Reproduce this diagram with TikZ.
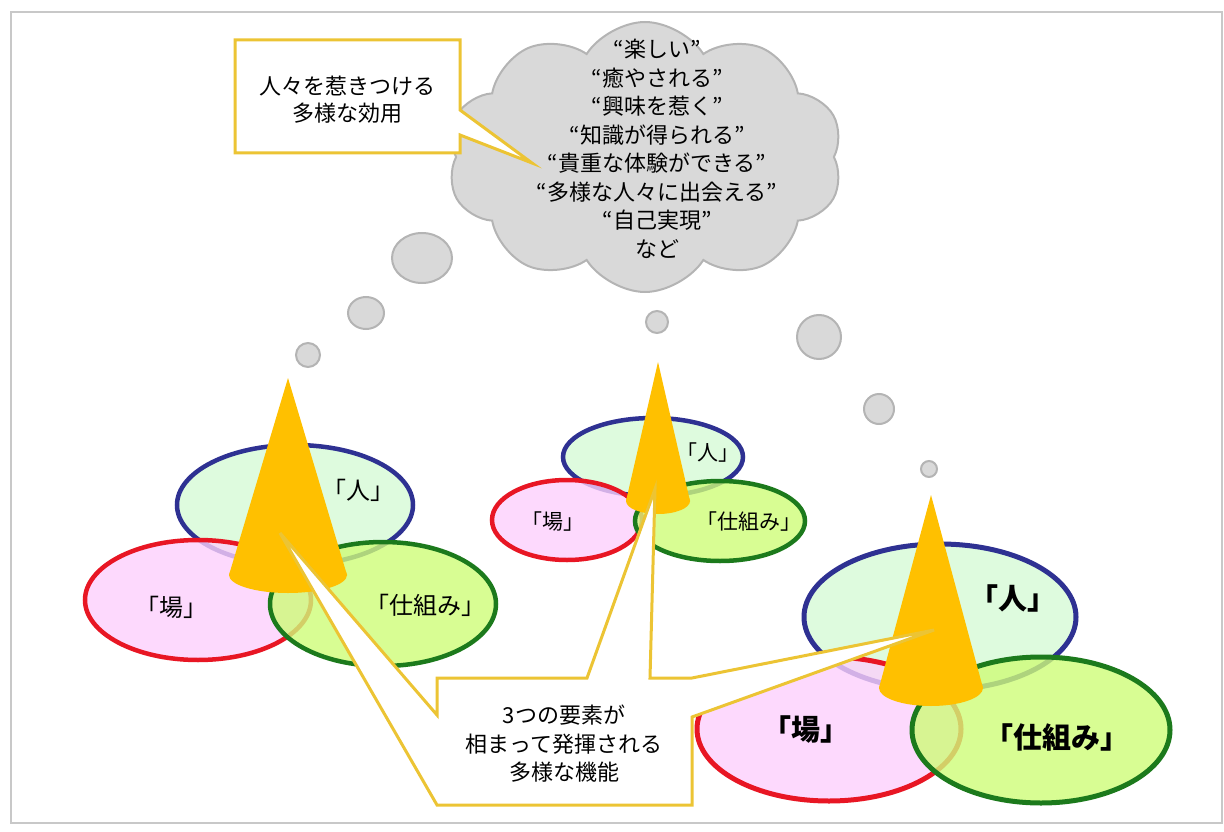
\documentclass[tikz,border=0pt]{standalone}
\usepackage{fontspec}
\setmainfont{Noto Sans CJK JP}
\usepackage{tikz}
\usetikzlibrary{shapes.geometric,shapes.symbols}

\definecolor{framegray}{RGB}{200,200,200}
\definecolor{cloudfill}{RGB}{217,217,217}
\definecolor{cloudline}{RGB}{180,180,180}
\definecolor{calloutline}{RGB}{236,196,52}
\definecolor{conecol}{RGB}{255,192,0}
\definecolor{hitoline}{RGB}{46,49,146}
\definecolor{hitofill}{RGB}{214,250,214}
\definecolor{baline}{RGB}{232,22,36}
\definecolor{bafill}{RGB}{252,208,252}
\definecolor{shikumiline}{RGB}{28,122,28}
\definecolor{shikumifill}{RGB}{206,252,120}

\tikzset{
  venn/.style={ellipse, inner sep=0pt, line width=4.5pt, fill opacity=0.8},
  hito/.style={venn, draw=hitoline, fill=hitofill},
  ba/.style={venn, draw=baline, fill=bafill},
  shikumi/.style={venn, draw=shikumiline, fill=shikumifill},
  bubble/.style={draw=cloudline, fill=cloudfill, line width=2pt},
  callout/.style={draw=calloutline, fill=white, line width=3pt, line join=miter},
  tagS/.style={font=\fontsize{21}{24}\selectfont, inner sep=0pt},
  tagM/.style={font=\fontsize{24}{27}\selectfont, inner sep=0pt},
  tagL/.style={font=\fontsize{29}{32}\selectfont\bfseries, inner sep=0pt},
  note/.style={font=\fontsize{22}{28.5}\selectfont, align=center, inner sep=0pt}
}

% x, tip y, base y, x radius, y radius
\newcommand{\drawcone}[5]{%
  \fill[conecol] (#1,#2) -- (#1-#4,#3) -- (#1+#4,#3) -- cycle;
  \fill[conecol] (#1,#3) ellipse [x radius=#4, y radius=#5];
}

\begin{document}
\begin{tikzpicture}[x=1pt, y=-1pt]
  \useasboundingbox (0,0) rectangle (1224,832);
  \draw[framegray, line width=2pt] (11,12) rectangle (1222,823);

  % thought cloud
  \node[cloud, cloud puffs=10, cloud puff arc=115, cloud ignores aspect,
        minimum width=396pt, minimum height=270pt, bubble] (cloud) at (645,157) {};
  \node[note] (wishes) at (657,149) {“楽しい”\\“癒やされる”\\“興味を惹く”\\“知識が得られる”\\“貴重な体験ができる”\\“多様な人々に出会える”\\“自己実現”\\など};

  \draw[bubble] (422,258) ellipse [x radius=30, y radius=25];
  \draw[bubble] (366,313) ellipse [x radius=18, y radius=16];
  \draw[bubble] (308,355) circle [radius=12];
  \draw[bubble] (657,322) circle [radius=11];
  \draw[bubble] (819,337) circle [radius=22];
  \draw[bubble] (879,409) circle [radius=15];
  \draw[bubble] (929,469) circle [radius=8];

  % callout top
  \coordinate (tipT) at (532,163);
  \draw[callout] (235,40) -- (460,40) -- (460,110) -- (tipT) -- (460,135) -- (460,153) -- (235,153) -- cycle;
  \node[note, font=\fontsize{22}{27}\selectfont] (appeal) at (347,100) {人々を惹きつける\\多様な効用};

  % left group
  \node[hito, minimum width=236pt, minimum height=120pt] (hitoA) at (295,505) {};
  \node[ba, minimum width=226pt, minimum height=120pt] (baA) at (198,600) {};
  \node[shikumi, minimum width=226pt, minimum height=124pt] (shikumiA) at (383,604) {};
  \drawcone{288}{378}{575}{59}{18}

  % middle group
  \node[hito, minimum width=180pt, minimum height=78pt] (hitoB) at (653,457) {};
  \node[ba, minimum width=150pt, minimum height=80pt] (baB) at (567,520) {};
  \node[shikumi, minimum width=170pt, minimum height=80pt] (shikumiB) at (720,521) {};
  \drawcone{658}{362}{501}{32}{13}

  % right group
  \node[hito, minimum width=272pt, minimum height=146pt, line width=5pt] (hitoC) at (940,617) {};
  \node[ba, minimum width=264pt, minimum height=144pt, line width=5pt] (baC) at (829,729) {};
  \node[shikumi, minimum width=258pt, minimum height=146pt, line width=5pt] (shikumiC) at (1041,730) {};
  \drawcone{931}{495}{688}{52}{18}

  % callout bottom
  \coordinate (tipL) at (280,533);
  \coordinate (tipM) at (655,489);
  \coordinate (tipR) at (934,630);
  \draw[callout] (437,678) -- (587,678) -- (tipM) -- (650,678) -- (692,678) -- (tipR)
    -- (692,717) -- (692,805) -- (437,805) -- (tipL) -- (437,715) -- cycle;
  \node[note] (role) at (564,744) {3つの要素が\\相まって発揮される\\多様な機能};

  % labels
  \node[tagM] (hitoAtag) at (358,490) {「人」};
  \node[tagM] (baAtag) at (171,607) {「場」};
  \node[tagM] (shikumiAtag) at (425,605) {「仕組み」};
  \node[tagS] (hitoBtag) at (708,453) {「人」};
  \node[tagS] (baBtag) at (553,522) {「場」};
  \node[tagS] (shikumiBtag) at (749,522) {「仕組み」};
  \node[tagL] (hitoCtag) at (1013,598) {「人」};
  \node[tagL] (baCtag) at (806,730) {「場」};
  \node[tagL] (shikumiCtag) at (1057,737) {「仕組み」};
\end{tikzpicture}
\end{document}
